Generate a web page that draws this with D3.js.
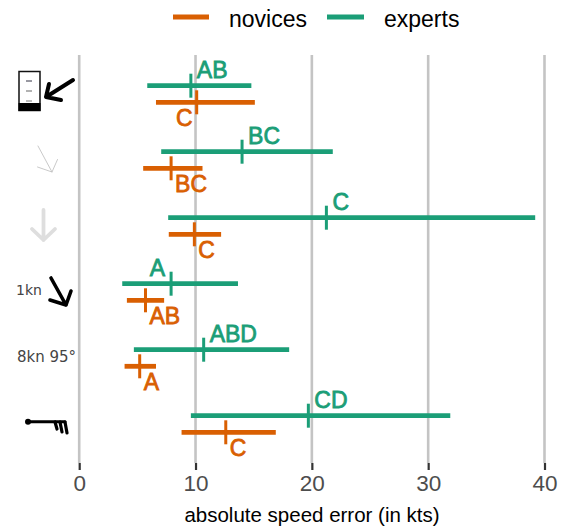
<!DOCTYPE html>
<html>
<head>
<meta charset="utf-8">
<script src="https://cdn.jsdelivr.net/npm/d3@7"></script>
<style>
body { margin: 0; background: #fff; }
text { font-family: "Liberation Sans", Arial, sans-serif; }
</style>
</head>
<body>
<div id="viz"></div>
<script>
var conditions = ["phone", "thin", "pale", "label1kn", "label8kn", "barb"];
var groups = ["experts", "novices"];

var expertsLow = [5.85, 7.05, 7.65, 3.7, 4.7, 9.6];
var expertsMean = [9.6, 14.0, 21.25, 7.9, 10.7, 19.7];
var expertsHigh = [14.8, 21.8, 39.2, 13.65, 18.05, 31.9];
var expertsLetters = ["AB", "BC", "C", "A", "ABD", "CD"];
var expertsSide = ["right", "right", "right", "left", "right", "right"];

var novicesLow = [6.6, 5.5, 7.7, 4.1, 3.9, 8.8];
var novicesMean = [10.1, 7.9, 9.9, 5.7, 5.2, 12.6];
var novicesHigh = [15.1, 10.6, 12.2, 7.3, 6.6, 16.9];
var novicesLetters = ["C", "BC", "C", "AB", "A", "C"];
var novicesSide = ["left", "right", "right", "right", "right", "right"];

var xTicks = [0, 10, 20, 30, 40];

var colors = {novices: "#d95f02", experts: "#1b9e77"};

var svg = d3.select("#viz")
    .append("svg")
    .attr("width", 566)
    .attr("height", 531)
    .style("display", "block");

var x = d3.scaleLinear().domain([0, 40]).range([79.2, 544.5]);
var y = d3.scaleBand().domain(conditions).range([61, 457]);
var yGroup = d3.scalePoint().domain(groups).range([-8.3, 8.3]);

// grid
svg.selectAll(".grid")
    .data(xTicks)
    .enter()
    .append("line")
    .attr("class", "grid")
    .attr("x1", function(d){ return x(d); })
    .attr("x2", function(d){ return x(d); })
    .attr("y1", 55)
    .attr("y2", 463)
    .attr("stroke", "#c4c4c4")
    .attr("stroke-width", 2.6);

// x axis
var axis = svg.append("g")
    .attr("transform", "translate(0,463)")
    .call(d3.axisBottom(x).tickValues(xTicks).tickSize(7).tickPadding(5).tickFormat(d3.format("d")));
axis.select(".domain").remove();
axis.selectAll("line").attr("stroke", "#333").attr("stroke-width", 2.2);
axis.selectAll("text")
    .attr("fill", "#4d4d4d")
    .style("font-size", "22.5px");

svg.append("text")
    .attr("x", 312)
    .attr("y", 522)
    .attr("text-anchor", "middle")
    .attr("fill", "#000")
    .style("font-size", "20.5px")
    .text("absolute speed error (in kts)");

// intervals
function drawGroup(name, lows, means, highs, letters, sides, gap, dy) {
    var g = svg.append("g").attr("class", name);
    var color = colors[name];
    var cy = function(i){ return y(conditions[i]) + y.bandwidth() / 2 + yGroup(name); };

    g.selectAll(".ci")
        .data(lows)
        .enter()
        .append("line")
        .attr("class", "ci")
        .attr("x1", function(d){ return x(d); })
        .attr("x2", function(d, i){ return x(highs[i]); })
        .attr("y1", function(d, i){ return cy(i); })
        .attr("y2", function(d, i){ return cy(i); })
        .attr("stroke", color)
        .attr("stroke-width", 4.8);

    g.selectAll(".mean")
        .data(means)
        .enter()
        .append("line")
        .attr("class", "mean")
        .attr("x1", function(d){ return x(d); })
        .attr("x2", function(d){ return x(d); })
        .attr("y1", function(d, i){ return cy(i) - 12; })
        .attr("y2", function(d, i){ return cy(i) + 12; })
        .attr("stroke", color)
        .attr("stroke-width", 3);

    g.selectAll(".letter")
        .data(means)
        .enter()
        .append("text")
        .attr("class", "letter")
        .attr("x", function(d, i){ return x(d) + (sides[i] == "left" ? -gap : gap); })
        .attr("y", function(d, i){ return cy(i) + dy; })
        .attr("text-anchor", function(d, i){ return sides[i] == "left" ? "end" : "start"; })
        .attr("fill", color)
        .attr("stroke", color)
        .attr("stroke-width", 0.8)
        .style("font-size", "23px")
        .text(function(d, i){ return letters[i]; });
}
drawGroup("experts", expertsLow, expertsMean, expertsHigh, expertsLetters, expertsSide, 6, -8);
drawGroup("novices", novicesLow, novicesMean, novicesHigh, novicesLetters, novicesSide, 4, 23.5);

// legend
var legendItems = [
    {name: "novices", x1: 173, x2: 209, tx: 229},
    {name: "experts", x1: 327, x2: 364, tx: 384}
];
var lg = svg.selectAll(".legend")
    .data(legendItems)
    .enter()
    .append("g")
    .attr("class", "legend");
lg.append("line")
    .attr("x1", function(d){ return d.x1; })
    .attr("x2", function(d){ return d.x2; })
    .attr("y1", 17)
    .attr("y2", 17)
    .attr("stroke", function(d){ return colors[d.name]; })
    .attr("stroke-width", 5);
lg.append("text")
    .attr("x", function(d){ return d.tx; })
    .attr("y", 27)
    .attr("fill", "#000")
    .style("font-size", "23px")
    .text(function(d){ return d.name; });

// row icons
var icons = svg.append("g").attr("class", "icons");
function arrow(d, color, w) {
    icons.append("path")
        .attr("d", d)
        .attr("fill", "none")
        .attr("stroke", color)
        .attr("stroke-width", w)
        .attr("stroke-linecap", "round")
        .attr("stroke-linejoin", "round");
}
// phone with arrow
icons.append("rect").attr("x", 19).attr("y", 71.5).attr("width", 21).attr("height", 39)
    .attr("fill", "#fff").attr("stroke", "#111").attr("stroke-width", 1.5);
icons.append("rect").attr("x", 18.5).attr("y", 103).attr("width", 22).attr("height", 8).attr("fill", "#000");
icons.append("line").attr("x1", 26).attr("x2", 32).attr("y1", 81).attr("y2", 81).attr("stroke", "#334").attr("stroke-width", 1);
icons.append("line").attr("x1", 26).attr("x2", 32).attr("y1", 91).attr("y2", 91).attr("stroke", "#888").attr("stroke-width", 1.3);
icons.append("line").attr("x1", 26).attr("x2", 32).attr("y1", 101).attr("y2", 101).attr("stroke", "#999").attr("stroke-width", 1.3);
arrow("M73,80L46,97M49,84L46,97L61,100", "#000", 4);
// thin arrow
arrow("M38,146L52,172M37.5,167L52,172L57.5,159.5", "#bbb", 0.8);
// pale arrow
arrow("M43.5,210L43.5,240M32,229L43.5,240L55,229", "#dedede", 3.8);
// 1kn arrow
arrow("M51,278L66,305M50,300L66,305L71,291", "#000", 3.6);
// barb
arrow("M28,421.7L65,421.7", "#000", 3);
arrow("M55,422L57,429M60,422L62,432M65,422L67,433", "#000", 3.2);
icons.append("circle").attr("cx", 28).attr("cy", 421.7).attr("r", 3).attr("fill", "#000");

icons.append("text").attr("x", 16).attr("y", 295).attr("fill", "#444").style("font-family", "'DejaVu Sans'").style("font-size", "14px").text("1kn");
icons.append("text").attr("x", 17).attr("y", 362).attr("fill", "#444").style("font-family", "'DejaVu Sans'").style("font-size", "15px").text("8kn 95°");
</script>
</body>
</html>
